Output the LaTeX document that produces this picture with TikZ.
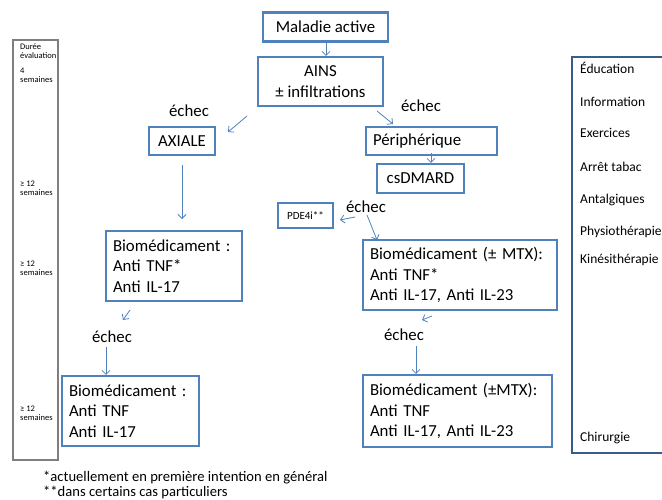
\documentclass[tikz,border=0pt]{standalone}
\usepackage{fontspec}
\setmainfont{Carlito}
\usetikzlibrary{arrows.meta,positioning,calc}
\definecolor{boxblue}{RGB}{79,129,189}
\definecolor{panelblue}{RGB}{56,93,138}
\definecolor{panelgray}{RGB}{127,127,127}

\begin{document}
\begin{tikzpicture}[
  x=1pt, y=-1pt,
  every node/.style={font=\fontsize{16.8}{20.5}\selectfont, text=black},
  box/.style={draw=boxblue, line width=2.2pt, inner xsep=7pt, inner ysep=2pt},
  lbox/.style={box, align=left},
  arr/.style={-{Straight Barb[length=4pt,width=8pt]}, draw=boxblue, line width=0.8pt},
  fail/.style={inner sep=1pt},
  dur/.style={font=\fontsize{8.5}{9}\selectfont, anchor=west, align=left, inner sep=0pt},
  side/.style={font=\fontsize{13.5}{15}\selectfont, anchor=west, inner sep=0pt},
  note/.style={font=\fontsize{14.6}{16}\selectfont, anchor=west, inner sep=0pt},
]
\useasboundingbox (0,0) rectangle (662,499);

% --- Main flow -------------------------------------------------
\node[box, minimum width=125pt, minimum height=29pt] (MA) at (325.5,27) {Maladie active};
\node[box, align=center, minimum width=125pt, minimum height=49pt] (AINS) at (320.5,81.5) {AINS\\ ± infiltrations};

% axial branch (left)
\node[box, minimum width=66pt, minimum height=28pt] (AXIALE) at (182,141) {AXIALE};
\node[lbox, text width=122pt, minimum height=70pt] (BioL1) at (174,266) {Biomédicament :\\ Anti TNF*\\ Anti IL-17};
\node[lbox, text width=123pt, minimum height=70pt] (BioL2) at (130.5,411) {Biomédicament :\\ Anti TNF\\ Anti IL-17};

% peripheral branch (right)
\node[lbox, text width=117pt, minimum height=28pt] (PERI) at (431.5,141) {Périphérique};
\node[box, minimum width=87pt, minimum height=29pt] (CSD) at (420.5,178.5) {csDMARD};
\node[box, font=\fontsize{11}{12}\selectfont, minimum width=55pt, minimum height=25pt, inner xsep=2pt] (PDE) at (305.5,215.5) {PDE4i**};
\node[lbox, text width=180pt, minimum height=70pt] (BioR1) at (460,275) {Biomédicament (± MTX):\\ Anti TNF*\\ Anti IL-17, Anti IL-23};
\node[lbox, text width=175pt, minimum height=72pt] (BioR2) at (457.5,411) {Biomédicament (±MTX):\\ Anti TNF\\ Anti IL-17, Anti IL-23};

% failure labels
\node[fail] (E1) at (189,111) {échec};
\node[fail] (E2) at (421,106) {échec};
\node[fail] (E3) at (366,207) {échec};
\node[fail] (E4) at (112,337) {échec};
\node[fail] (E5) at (404,335) {échec};

% --- Arrows ----------------------------------------------------
\coordinate (AxS) at (247,116);   \coordinate (AxE) at (228,132);
\coordinate (PeS) at (377,111);   \coordinate (PeE) at (393,124);
\coordinate (AxD) at (182,165);   \coordinate (BL1) at (182,219);
\coordinate (PdS) at (355,217);   \coordinate (PdE) at (340,220);
\coordinate (BrS) at (367,215);   \coordinate (BrE) at (377,240);
\coordinate (L1S) at (130,310);   \coordinate (L1E) at (123,320);
\coordinate (R1S) at (432,316);   \coordinate (R1E) at (422,320);

\draw[arr] ([xshift=0.5pt]MA.south) -- ([xshift=0.5pt]MA.south |- AINS.north);
\draw[arr] (AxS) -- (AxE);
\draw[arr] (PeS) -- (PeE);
\draw[arr] (CSD.north -| 431,0) ++(0,-10) -- (CSD.north -| 431,0);
\draw[arr] (AxD) -- (BL1);
\draw[arr] (PdS) -- (PdE);
\draw[arr] (BrS) -- (BrE);
\draw[arr] (L1S) -- (L1E);
\draw[arr] (E4.south -| 106,0) ++(0,3) -- (BioL2.north -| 106,0);
\draw[arr] (R1S) -- (R1E);
\draw[arr] (E5.south -| 416,0) ++(0,4) -- (BioR2.north -| 416,0);

% --- Side panels -----------------------------------------------
\node[draw=panelgray, line width=2pt, minimum width=45pt, minimum height=420pt, inner sep=0pt] (DUREE) at (35.5,250) {};
\node[dur] at (20,51) {Durée\\ évaluation};
\node[dur] at (20,75) {4\\ semaines};
\node[dur] at (20,188) {≥ 12\\ semaines};
\node[dur] at (20,268) {≥ 12\\ semaines};
\node[dur] at (20,413) {≥ 12\\ semaines};

\node[draw=panelblue, line width=2pt, minimum width=100pt, minimum height=396pt, inner sep=0pt] (SOINS) at (622,255) {};
\node[side] at (580,68) {Éducation};
\node[side] at (580,102) {Information};
\node[side] at (580,133) {Exercices};
\node[side] at (580,167) {Arrêt tabac};
\node[side] at (580,200) {Antalgiques};
\node[side] at (580,232) {Physiothérapie};
\node[side] at (580,260) {Kinésithérapie};
\node[side] at (580,438) {Chirurgie};

% --- Footnotes -------------------------------------------------
\node[note] at (43,478) {*actuellement en première intention en général};
\node[note] at (43,492) {**dans certains cas particuliers};

\end{tikzpicture}
\end{document}
